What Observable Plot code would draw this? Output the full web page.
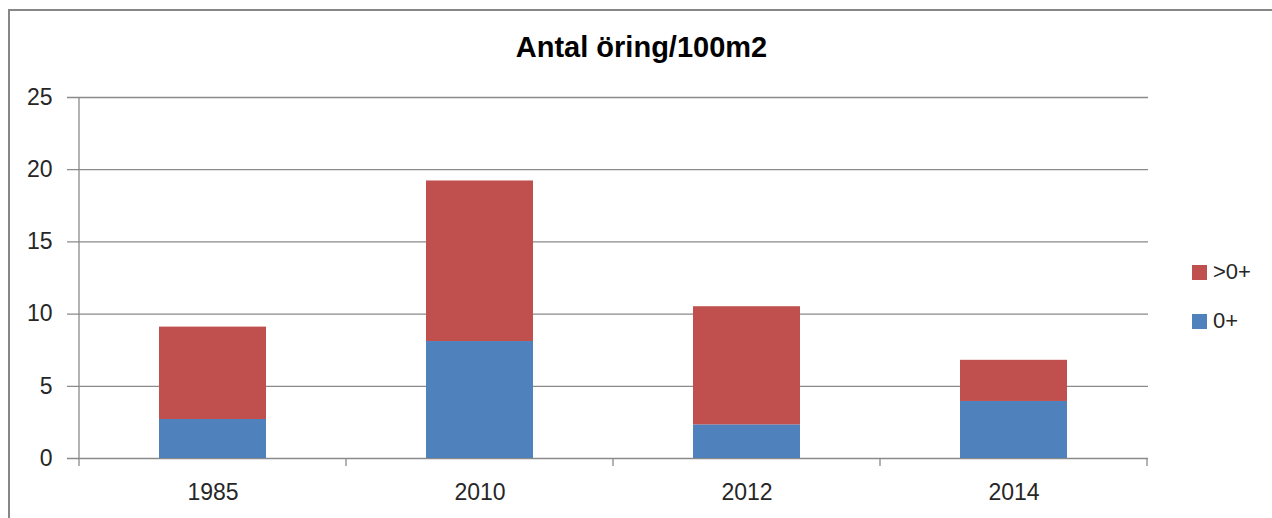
<!DOCTYPE html>
<html>
<head>
<meta charset="utf-8">
<script src="https://cdn.jsdelivr.net/npm/d3@7"></script>
<script src="https://cdn.jsdelivr.net/npm/@observablehq/plot@0.6"></script>
<style>
  html, body { margin: 0; padding: 0; background: #fff; overflow: hidden; }
  #wrap { position: relative; width: 1272px; height: 518px; font-family: "Liberation Sans", Arial, sans-serif; }
  #border { position: absolute; left: 8px; top: 9px; width: 1400px; height: 700px; border-left: 2px solid #878787; border-top: 2px solid #878787; box-sizing: border-box; pointer-events: none; }
  #title { position: absolute; left: 0; width: 1283px; top: 33px; text-align: center; font-weight: bold; font-size: 29px; line-height: 28px; color: #000; }
  #chart { position: absolute; left: 0; top: 0; }
  .leg { position: absolute; left: 1192px; font-size: 22px; line-height: 22px; color: #262626; display: flex; align-items: center; }
  .leg span.sw { display: inline-block; width: 15px; height: 15px; margin-right: 6px; }
</style>
</head>
<body>
<div id="wrap">
  <div id="chart"></div>
  <div id="border"></div>
  <div id="title">Antal öring/100m2</div>
  <div id="legend"></div>
</div>
<script>
const years = ["1985", "2010", "2012", "2014"];
const young = [2.7, 8.1, 2.33, 3.95];      // 0+
const older = [6.4, 11.12, 8.18, 2.85];    // >0+
const seriesNames = ["0+", ">0+"];
const seriesColors = ["#4F81BD", "#C0504D"];
const yTicks = [0, 5, 10, 15, 20, 25];

const rows = [];
years.forEach((y, i) => {
  rows.push({year: y, series: seriesNames[0], value: young[i]});
  rows.push({year: y, series: seriesNames[1], value: older[i]});
});

function categoryTicks(index, scales) {
  const x = scales.x, y = scales.y;
  const step = typeof x.step === "function" ? x.step() : 0;
  const bw = typeof x.bandwidth === "function" ? x.bandwidth() : 0;
  const off = (step - bw) / 2;
  const g = d3.create("svg:g").attr("stroke", "#8a8a8a").attr("stroke-width", 1.3);
  const y0 = y(0), yTop = y(d3.max(yTicks));
  const xs = years.map(c => x(c) - off);
  xs.push(x(years[years.length - 1]) + bw + off);
  xs.forEach((xv, i) => {
    g.append("line")
      .attr("x1", xv).attr("x2", xv)
      .attr("y1", i === 0 ? yTop : y0)
      .attr("y2", y0 + 8);
  });
  return g.node();
}

const chart = Plot.plot({
  width: 1272,
  height: 518,
  marginTop: 97,
  marginBottom: 60,
  marginLeft: 77,
  marginRight: 124,
  style: {fontFamily: "Liberation Sans, Arial, sans-serif", fontSize: "23px", color: "#262626", background: "transparent"},
  x: {domain: years, paddingInner: 0.6, paddingOuter: 0.3, label: null},
  y: {domain: [0, 25], label: null},
  color: {domain: seriesNames, range: seriesColors},
  marks: [
    Plot.ruleY(yTicks, {y: d => d, stroke: "#8a8a8a", strokeWidth: 1.3, insetLeft: -10}),
    Plot.barY(rows, {x: "year", y: "value", fill: "series", order: seriesNames}),
    categoryTicks,
    Plot.axisY(yTicks, {tickSize: 0, tickPadding: 25, fontSize: 23, label: null}),
    Plot.axisX({tickSize: 0, tickPadding: 25, fontSize: 23, label: null})
  ]
});
document.getElementById("chart").appendChild(chart);

const legend = document.getElementById("legend");
const legendTops = {">0+": 261, "0+": 310};
[seriesNames[1], seriesNames[0]].forEach(name => {
  const d = document.createElement("div");
  d.className = "leg";
  d.style.top = legendTops[name] + "px";
  const sw = document.createElement("span");
  sw.className = "sw";
  sw.style.background = seriesColors[seriesNames.indexOf(name)];
  d.appendChild(sw);
  d.appendChild(document.createTextNode(name));
  legend.appendChild(d);
});
</script>
</body>
</html>
